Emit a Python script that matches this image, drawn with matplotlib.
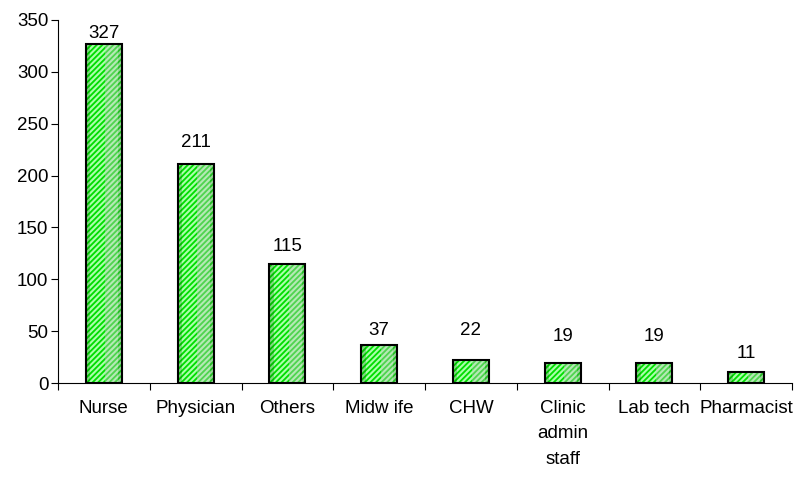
import matplotlib
matplotlib.use("Agg")
import matplotlib.pyplot as plt
import numpy as np

categories = ["Nurse", "Physician", "Others", "Midwife", "CHW", "Clinic admin staff", "Lab tech", "Pharmacist"]
display_labels = ["Nurse", "Physician", "Others", "Midw ife", "CHW", "Clinic\nadmin\nstaff", "Lab tech", "Pharmacist"]
values = [327, 211, 115, 37, 22, 19, 19, 11]
yticks = [0, 50, 100, 150, 200, 250, 300, 350]

plt.rcParams['font.family'] = ['Liberation Sans', 'DejaVu Sans']
plt.rcParams['hatch.linewidth'] = 1.5

FS = 13.5
fig = plt.figure(figsize=(8.02, 4.79), dpi=100)
ax = fig.add_axes([58/802, 1-383/479, (792-58)/802, (383-20)/479])

x = np.arange(len(values))
w = 0.39
# base fill with hatch
ax.bar(x, values, width=w, color='#00dd00', edgecolor='#aaffaa', hatch='//////', linewidth=0, zorder=2)
# darker left edge
ax.bar(x - w*0.44, values, width=w*0.12, color='#006600', alpha=0.25, linewidth=0, zorder=3)
# lighter greyish stripe on right part
ax.bar(x + w*0.22, values, width=w*0.36, color='#c8c8c8', alpha=0.4, linewidth=0, zorder=3)
# darker right edge
ax.bar(x + w*0.45, values, width=w*0.10, color='#777777', alpha=0.3, linewidth=0, zorder=3)
# outline
ax.bar(x, values, width=w, fill=False, edgecolor='black', linewidth=1.5, zorder=4)

# gap (points) between bar top and label baseline, as in the source chart
label_gap_pt = [4, 12, 9, 7, 18, 16, 16, 10]
for xi, v, g in zip(x, values, label_gap_pt):
    ax.annotate(str(v), (xi, v), xytext=(0, g), textcoords='offset points',
                ha='center', va='baseline', fontsize=FS)

ax.set_xlim(-0.5, len(values) - 0.5)
ax.set_ylim(0, 350)
ax.set_yticks(yticks)
ax.set_yticklabels([str(t) for t in yticks], fontsize=FS)
ax.set_xticks(x)
ax.set_xticklabels(display_labels, fontsize=FS, linespacing=1.65, va='top')
ax.tick_params(axis='x', length=0, pad=12)
ax.set_xticks(np.arange(len(values) + 1) - 0.5, minor=True)
ax.tick_params(axis='x', which='minor', length=5, direction='out', width=0.8)
ax.tick_params(axis='y', length=5, direction='out', pad=2, width=0.8)
ax.spines['top'].set_visible(False)
ax.spines['right'].set_visible(False)
ax.spines['left'].set_linewidth(0.8)
ax.spines['bottom'].set_linewidth(0.8)

fig.savefig("out.png", dpi=100)
